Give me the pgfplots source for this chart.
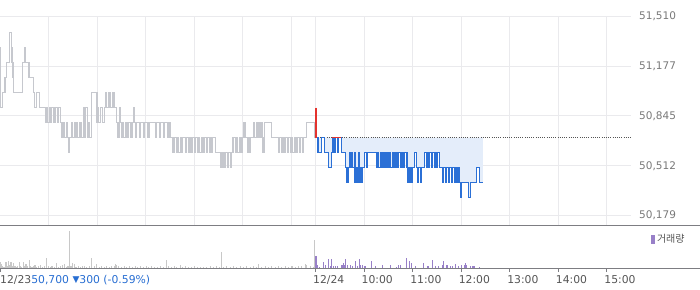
\documentclass[border=0pt]{standalone}
\usepackage{fontspec}
\setmainfont{DejaVu Sans}
\newfontfamily\kr{Noto Sans CJK KR}
\usepackage{pgfplots}
\usepackage{pgfplotstable}
\usetikzlibrary{calc}
\pgfplotsset{compat=1.18}
\definecolor{gline}{RGB}{198,200,206}
\definecolor{gridc}{RGB}{234,234,237}
\definecolor{bline}{RGB}{43,112,214}
\definecolor{fillc}{RGB}{228,237,250}
\definecolor{redc}{RGB}{228,50,45}
\definecolor{dotc}{RGB}{85,85,85}
\definecolor{vgray}{RGB}{200,200,200}
\definecolor{purp}{RGB}{152,128,200}
\definecolor{ylab}{RGB}{120,120,120}
\definecolor{xlab}{RGB}{85,85,85}
\definecolor{sepc}{RGB}{125,125,130}
\definecolor{pricec}{RGB}{40,110,210}

\pgfplotstableread{
m p
0 51300
1 50900
3 51000
6 51100
8 51200
12 51400
14 51300
15 51200
16 51100
17 51000
28 51200
30 51300
31 51200
36 51100
41 51000
43 50900
45 51000
49 50900
56 50800
58 50900
59 50800
61 50900
62 50800
64 50900
66 50800
68 50900
71 50800
72 50900
75 50800
76 50700
78 50800
79 50700
82 50800
83 50700
85 50600
86 50700
88 50800
89 50700
92 50800
93 50700
95 50800
96 50700
99 50800
100 50700
103 50800
104 50900
105 50700
106 50900
108 50700
109 50800
111 50700
113 51000
120 50800
121 50900
122 50800
124 50900
127 50800
129 50900
130 51000
131 50900
134 51000
136 50900
139 51000
141 50900
144 50800
146 50700
148 50900
149 50800
150 50700
152 50800
153 50700
155 50800
157 50700
159 50800
161 50700
163 50800
165 50900
166 50800
168 50700
169 50800
173 50700
174 50800
178 50700
179 50800
183 50700
184 50800
192 50700
193 50800
197 50700
198 50800
202 50700
203 50800
207 50700
208 50800
210 50700
214 50600
215 50700
218 50600
219 50700
221 50600
223 50700
225 50600
226 50700
229 50600
230 50700
233 50600
234 50700
236 50600
238 50700
240 50600
241 50700
244 50600
245 50700
247 50600
249 50700
251 50600
252 50700
255 50600
256 50700
259 50600
260 50700
262 50600
263 50700
266 50600
273 50500
275 50600
277 50500
278 50600
281 50500
282 50600
285 50500
286 50600
288 50700
291 50600
292 50700
294 50600
296 50700
298 50600
299 50700
301 50800
303 50700
306 50600
307 50700
309 50600
310 50700
313 50800
315 50700
317 50800
318 50700
319 50800
321 50700
322 50800
324 50700
325 50600
327 50800
336 50700
344 50600
345 50700
348 50600
349 50700
351 50600
353 50700
355 50600
356 50700
359 50600
360 50700
362 50600
364 50700
366 50600
367 50700
370 50600
371 50700
374 50600
375 50700
379 50800
389 50700
390 50700
}\prevday

\pgfplotstableread{
m p
391 50700
393 50600
397 50700
401 50600
406 50500
410 50600
411 50700
413 50600
415 50700
417 50600
418 50700
422 50600
427 50500
429 50400
430 50500
432 50600
433 50500
435 50600
436 50500
438 50600
439 50400
441 50500
442 50400
443 50600
444 50400
446 50500
447 50400
448.5 50500
451 50600
453 50500
454 50600
465 50500
467 50600
468 50500
470 50600
471 50500
473 50600
474 50500
476 50600
477 50500
479 50600
480 50500
482 50600
483 50500
485 50600
486 50500
488 50600
489 50500
490 50600
492 50500
493 50600
495 50500
496 50600
498 50500
500 50600
503 50500
504 50400
505 50500
506 50400
507 50500
509 50400
510 50500
512 50600
515 50500
516 50400
517 50500
520 50400
521 50500
525 50600
527 50500
528 50600
530 50500
531 50600
533 50500
535 50600
537 50500
538 50600
540 50500
541 50600
543 50500
547 50400
548 50500
551 50400
552 50500
554 50400
556 50500
558 50400
559 50500
562 50400
563 50500
565 50400
567 50500
568 50400
569 50300
570 50400
579 50300
582 50400
589 50500
593 50400
597 50400
}\curday

\pgfplotstableread{
m v
0 5.7
1.2 4
3 2
5 1.5
7.4 6.3
9 2.5
11 7.3
12.4 3
13.6 5.7
15 2
16.5 4.7
18.6 2
20.6 1.5
22 2.5
24 5.7
25.6 2
27 1.5
28.9 6.3
30.5 2
32.2 4
34 2
36.3 8.3
38 2
39.6 1.5
41 2
43.3 3
45.4 1.5
47.4 2
50.3 3
52.4 1.5
54.8 2
57.3 10.3
59.4 2
62 1.5
64.3 2
67.2 1.5
70.1 5.3
72.2 1.5
74.6 2
77.5 3
79.2 4.3
81.7 1.5
84.1 2
85.8 36.7
87.8 2
89.9 5.3
91.6 3.7
94 1.5
96.5 2
99 1.5
101.9 2
104.3 2.5
107.2 1.5
110.5 2
113.4 10.3
116.3 2
119.6 4
122.9 1.5
125.8 2
129 1.5
132 2
135.3 1.5
138.2 2
141 2
142.7 4.3
144.3 3.3
146.8 2
150.1 1.5
153.4 2
156.7 1.5
160 2
163.3 1.5
167 2
170.3 1.5
173.6 2
177.3 1.5
180.6 2
183.9 1.5
187.6 2
191.4 1.5
194.7 1.5
198 2
202 1.5
205.8 7.7
208.7 2
212 1.5
215.3 2
218.6 1.5
222.7 3.3
226 1.5
229.3 2
233 1.5
236.7 1.5
240.4 2
244.1 1.5
247.4 1.5
251.6 1.5
255.7 1.5
259.8 2
263.9 1.5
268 2
271.4 1.5
273.8 16.3
276.3 1.5
280.4 2
284.6 1.5
288.7 2
292.8 1.5
296.9 2
301 1.5
305.2 2
309.3 1.5
313.4 2
316.7 1.5
319.6 3.7
323.7 1.5
327.9 2
332 1.5
336.1 2
340.2 1.5
344.4 2
348.5 1.5
352.6 2
356.7 1.5
360.9 2
365 1.5
369.1 2
373.2 2.5
377.4 4
379.4 3.3
383.5 2
387.7 1.5
389.3 27.7
}\volprev

\pgfplotstableread{
m v
390.6 12.3
391.8 3
392.9 2.3
395 1.3
400.3 6.3
402.8 3
406.5 9.3
408.2 2.3
410.2 8.7
412.3 1.7
414.7 1.7
417.2 1.7
422.2 2.7
423.4 3.3
424.4 5
425.6 3.3
427.5 9.3
430 3.3
433.3 3
435.4 2
439.9 7.3
442.4 2
444.4 8.7
445.8 3.3
447.7 3
451 1.7
452.1 2
459.3 6.7
464.2 1.7
473.3 3.3
483.2 2.7
490.6 1.3
493 3.3
495.5 2.7
502.9 10.3
505.9 6.7
508.4 4.7
513.3 2.3
524 4.7
528.9 1.7
530.2 1.7
534.7 7.7
538.4 1.7
542.2 1.7
546.7 3.3
548.3 6.7
552.5 3.3
557 1.7
559.9 1.7
563.2 3.7
566.9 1.7
570.2 2.7
574.7 3.3
575.9 5
577.2 3.3
582.1 1.7
583.8 1.7
585.5 1.7
587 1.7
592.9 1.3
}\voltoday

\begin{document}
\begin{tikzpicture}
% volume panel: its axis box lower-left corner is the picture origin
\begin{axis}[
  name=vol,
  width=631pt, height=42pt, scale only axis,
  xmin=0, xmax=780, ymin=0, ymax=42,
  axis line style={draw=none},
  ytick=\empty,
  xtick={390,450,510,570,630,690,750},
  xticklabels={12/24,10:00,11:00,12:00,13:00,14:00,15:00},
  extra x ticks={0},
  extra x tick labels={\hspace*{2.5pt}12/23\textcolor{pricec}{50,700 \raisebox{0.3pt}{\fontsize{9}{10}\selectfont▼}300 (-0.59\%)}},
  xtick pos=lower,
  tick align=outside,
  major tick length=4pt,
  tick style={color=sepc, line width=0.9pt},
  xticklabel style={font=\fontsize{10.8}{12}\selectfont, text=xlab, anchor=north west, inner sep=0pt, xshift=-2.5pt, yshift=-3pt, text height=7.8pt, text depth=2pt},
  legend style={at={(axis description cs:1,1)}, anchor=north west, xshift=20pt, yshift=-6pt, draw=none, fill=none, inner sep=0pt, font=\kr\fontsize{10}{12}\selectfont, text=xlab},
  legend image code/.code={\fill[purp] (0pt,-4pt) rectangle (2.7pt,4pt);},
  legend cell align=left,
]
\addplot[ycomb, color=vgray, line width=1.1pt, mark=none, forget plot] table[x=m,y=v] {\volprev};
\addplot[ycomb, color=purp, line width=1.1pt, mark=none] table[x=m,y=v] {\voltoday};
\addlegendentry{거래량}
\end{axis}

\begin{axis}[
  name=main,
  at={($(vol.south west)+(0pt,43pt)$)}, anchor=south west,
  width=631pt, height=209pt, scale only axis,
  xmin=0, xmax=780, ymin=50117, ymax=51510,
  axis line style={draw=none},
  xtick={60,120,180,240,300,360,390,450,510,570,630,690,750},
  xticklabels={},
  ytick={50179,50512,50845,51177,51510},
  scaled y ticks=false,
  yticklabel pos=right,
  major tick length=0pt,
  grid=major,
  grid style={color=gridc, line width=0.9pt},
  yticklabel style={font=\fontsize{10.5}{12}\selectfont, text=ylab, anchor=west, inner sep=0pt, xshift=8pt},
  /pgf/number format/1000 sep={,},
  /pgf/number format/assume math mode=true,
]
\addplot[fill=fillc, draw=none, const plot, forget plot] table[x=m,y=p] {\curday} -- (597,50700) -- cycle;
\addplot[color=dotc, line width=0.8pt, dash pattern=on 1pt off 1.2pt, forget plot] coordinates {(390,50700) (780,50700)};
\addplot[color=gline, line width=1.3pt, const plot, forget plot] table[x=m,y=p] {\prevday};
\addplot[color=bline, line width=1.3pt, const plot, forget plot] table[x=m,y=p] {\curday};
\addplot[color=redc, line width=1.2pt, forget plot] coordinates {(390.6,50900) (390.6,50700)};
\addplot[color=redc, line width=1.2pt, forget plot] coordinates {(411,50700) (421,50700)};
\end{axis}

\draw[sepc, line width=1.2pt] ($(vol.south west)+(0pt,42.6pt)$) -- ++(700pt,0pt);
\draw[sepc, line width=0.9pt] ($(vol.south west)+(0pt,-0.2pt)$) -- ++(700pt,0pt);

\pgfresetboundingbox
\path[use as bounding box] ($(vol.south west)+(0pt,-21pt)$) rectangle ($(vol.south west)+(700pt,268pt)$);
\end{tikzpicture}
\end{document}
